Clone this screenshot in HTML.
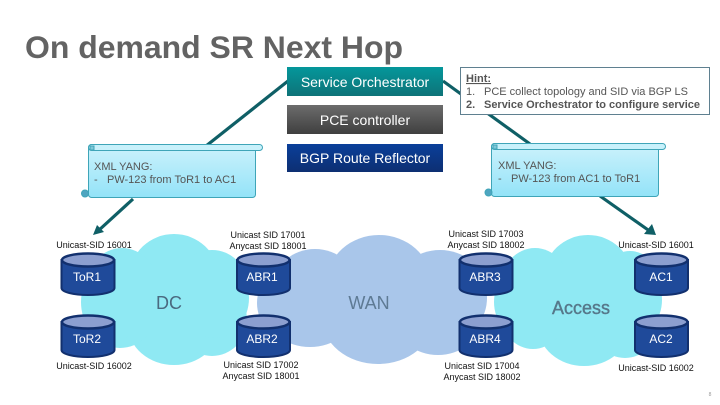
<!DOCTYPE html>
<html><head><meta charset="utf-8">
<style>
html,body{margin:0;padding:0;background:#fff;width:720px;height:405px;overflow:hidden}
svg{display:block}
text{font-family:"Liberation Sans",sans-serif}
.sid{font-size:9px;fill:#111;text-anchor:middle}
.cy{font-size:12px;fill:#fff;text-anchor:middle}
.btn{font-size:14px;fill:#fff;text-anchor:middle}
.cl{font-size:18px;fill:#4a6a80;text-anchor:middle}
.sc{font-size:11px;fill:#555}
</style></head><body>
<svg width="720" height="405" viewBox="0 0 720 405" xmlns="http://www.w3.org/2000/svg">
<defs>
<linearGradient id="g1" x1="0" y1="0" x2="0" y2="1"><stop offset="0" stop-color="#04979b"/><stop offset="1" stop-color="#0e7378"/></linearGradient>
<linearGradient id="g2" x1="0" y1="0" x2="0" y2="1"><stop offset="0" stop-color="#6c6c6c"/><stop offset="1" stop-color="#3f3f3f"/></linearGradient>
<linearGradient id="g3" x1="0" y1="0" x2="0" y2="1"><stop offset="0" stop-color="#0a3f9a"/><stop offset="1" stop-color="#0d2f72"/></linearGradient>
<linearGradient id="g4" x1="0" y1="0" x2="0" y2="1"><stop offset="0" stop-color="#cdf2fc"/><stop offset="1" stop-color="#93e3f8"/></linearGradient>
<g id="cyl">
<path d="M0 7 V35 C0 39 12 42 26.5 42 S53 39 53 35 V7 Z" fill="#1f4a9a" stroke="#12306e" stroke-width="2"/>
<ellipse cx="26.5" cy="7" rx="26" ry="6.5" fill="#8c9fd0" stroke="#12306e" stroke-width="2.4"/>
</g>
</defs>

<text x="25" y="58" font-size="31.5" font-weight="700" fill="#636363" textLength="378" lengthAdjust="spacingAndGlyphs">On demand SR Next Hop</text>

<!-- clouds -->
<g fill="#8fe9f3">
<ellipse cx="174" cy="276" rx="44" ry="42"/>
<ellipse cx="174" cy="325" rx="46" ry="40"/>
<ellipse cx="122" cy="288" rx="36" ry="40"/>
<ellipse cx="120" cy="312" rx="36" ry="36"/>
<ellipse cx="112" cy="302" rx="31" ry="40"/>
<ellipse cx="212" cy="285" rx="35" ry="35"/>
<ellipse cx="212" cy="320" rx="35" ry="36"/>
<ellipse cx="215" cy="298" rx="34" ry="40"/>
<rect x="115" y="265" width="100" height="70"/>
</g>
<g fill="#a9c6ea">
<ellipse cx="379" cy="282" rx="52" ry="47"/>
<ellipse cx="378" cy="318" rx="56" ry="46"/>
<ellipse cx="315" cy="287" rx="42" ry="38"/>
<ellipse cx="310" cy="312" rx="44" ry="35"/>
<ellipse cx="290" cy="303" rx="33" ry="36"/>
<ellipse cx="440" cy="287" rx="44" ry="37"/>
<ellipse cx="438" cy="320" rx="42" ry="35"/>
<ellipse cx="455" cy="298" rx="32" ry="38"/>
<rect x="300" y="265" width="150" height="75"/>
</g>
<g fill="#8fe9f3">
<ellipse cx="588" cy="277" rx="44" ry="42"/>
<ellipse cx="584" cy="326" rx="46" ry="40"/>
<ellipse cx="535" cy="285" rx="34" ry="37"/>
<ellipse cx="533" cy="315" rx="32" ry="34"/>
<ellipse cx="525" cy="302" rx="31" ry="36"/>
<ellipse cx="630" cy="285" rx="30" ry="34"/>
<ellipse cx="625" cy="320" rx="34" ry="38"/>
<ellipse cx="632" cy="300" rx="30" ry="36"/>
<rect x="530" y="265" width="110" height="70"/>
</g>

<!-- connectors -->
<g stroke="#0f5f66" stroke-width="3.2" fill="none">
<line x1="288" y1="81" x2="206" y2="146"/>
<line x1="443" y1="81" x2="530" y2="144"/>
<line x1="133" y1="199" x2="98" y2="231"/>
<line x1="600" y1="196" x2="651" y2="232"/>
</g>
<polygon points="93,235 97,225 104,232" fill="#0f5f66"/>
<polygon points="656,235 644,234 652,224" fill="#0f5f66"/>

<!-- stacked boxes -->
<rect x="287" y="67" width="156" height="29" fill="url(#g1)"/>
<rect x="287" y="105" width="156" height="29" fill="url(#g2)"/>
<rect x="287" y="144" width="156" height="28" fill="url(#g3)"/>
<text x="365" y="87" class="btn">Service Orchestrator</text>
<text x="365" y="125" class="btn">PCE controller</text>
<text x="365" y="163" class="btn">BGP Route Reflector</text>

<!-- hint -->
<rect x="460.5" y="67.5" width="249" height="47" fill="#fff" stroke="#5f8090" stroke-width="1"/>
<text x="466" y="82" font-size="11" font-weight="700" fill="#555" text-decoration="underline">Hint:</text>
<text x="466" y="95" font-size="11" fill="#555">1.</text>
<text x="484" y="95" font-size="11" fill="#555" textLength="204">PCE collect topology and SID via BGP LS</text>
<text x="466" y="108" font-size="11" font-weight="700" fill="#555">2.</text>
<text x="484" y="108" font-size="11" font-weight="700" fill="#555" textLength="216">Service Orchestrator to configure service</text>

<!-- scrolls -->
<g stroke="#3fa5b8" stroke-width="1">
<rect x="88.5" y="144.5" width="167" height="53" rx="3" fill="url(#g4)"/>
<rect x="88.5" y="144.5" width="174" height="6" rx="3" fill="#c8f1fb"/>
<rect x="90" y="146" width="4" height="4" fill="#7fc8d8"/>
<circle cx="85" cy="193.5" r="3.5" fill="#4fa5c0"/>
<rect x="491.5" y="143.5" width="167" height="53" rx="3" fill="url(#g4)"/>
<rect x="491.5" y="143.5" width="174" height="6" rx="3" fill="#c8f1fb"/>
<rect x="493" y="145" width="4" height="4" fill="#7fc8d8"/>
<circle cx="488.5" cy="192.5" r="3.5" fill="#4fa5c0"/>
</g>
<text x="94" y="170" class="sc">XML YANG:</text>
<text x="94" y="183" class="sc">-</text><text x="107" y="183" class="sc">PW-123 from ToR1 to AC1</text>
<text x="498" y="169" class="sc">XML YANG:</text>
<text x="498" y="182" class="sc">-</text><text x="511" y="182" class="sc">PW-123 from AC1 to ToR1</text>

<!-- cylinders -->
<use href="#cyl" x="61.5" y="253"/><use href="#cyl" x="61.5" y="315"/>
<use href="#cyl" x="237" y="253"/><use href="#cyl" x="237" y="315"/>
<use href="#cyl" x="459.5" y="253"/><use href="#cyl" x="459.5" y="315"/>
<use href="#cyl" x="635" y="253"/><use href="#cyl" x="635" y="315"/>
<text x="87" y="281" class="cy">ToR1</text><text x="87" y="343" class="cy">ToR2</text>
<text x="262" y="281" class="cy">ABR1</text><text x="262" y="343" class="cy">ABR2</text>
<text x="485" y="281" class="cy">ABR3</text><text x="485" y="343" class="cy">ABR4</text>
<text x="661" y="281" class="cy">AC1</text><text x="661" y="343" class="cy">AC2</text>

<text x="169" y="309" class="cl">DC</text>
<text x="369" y="309" class="cl" style="fill:#5e7a94">WAN</text>
<text x="581" y="314" class="cl" style="fill:#56788a;stroke:#56788a;stroke-width:.4">Access</text>

<!-- SID labels -->
<text x="94" y="248" class="sid">Unicast-SID 16001</text>
<text x="268" y="238" class="sid">Unicast SID 17001</text>
<text x="268" y="249" class="sid">Anycast SID 18001</text>
<text x="486" y="237" class="sid">Unicast SID 17003</text>
<text x="486" y="248" class="sid">Anycast SID 18002</text>
<text x="656" y="248" class="sid">Unicast-SID 16001</text>
<text x="94" y="369" class="sid">Unicast-SID 16002</text>
<text x="261" y="368" class="sid">Unicast SID 17002</text>
<text x="261" y="379" class="sid">Anycast SID 18001</text>
<text x="482" y="369" class="sid">Unicast SID 17004</text>
<text x="482" y="380" class="sid">Anycast SID 18002</text>
<text x="656" y="371" class="sid">Unicast-SID 16002</text>
<text x="710" y="396" font-size="5" fill="#999" text-anchor="middle">8</text>
</svg>
</body></html>
